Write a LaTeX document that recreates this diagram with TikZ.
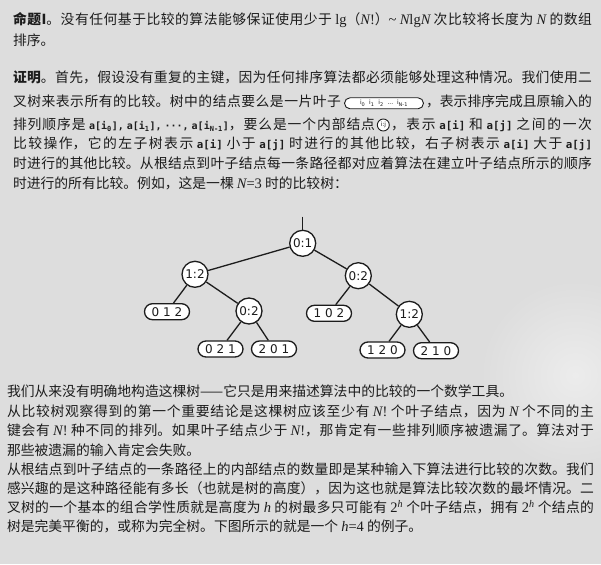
\documentclass[tikz,border=0pt]{standalone}
\usepackage{fontspec}
\setmainfont{Liberation Serif}
\newfontfamily\cjk{Noto Sans CJK SC}
\newfontfamily\ser{Liberation Serif}
\newfontfamily\mono{DejaVu Sans Mono}
\newfontfamily\treef{DejaVu Sans}
\XeTeXlinebreaklocale "zh"
\XeTeXlinebreakskip=0pt plus 4pt minus 0.4pt
\tolerance=10000
\definecolor{bg}{RGB}{221,221,221}
\definecolor{bglight}{RGB}{236,236,236}
\definecolor{ink}{RGB}{28,28,28}
\newcommand\vN{{\ser\itshape\fontsize{14.5}{16}\selectfont N}}
\newcommand\vh{{\ser\itshape\fontsize{14.5}{16}\selectfont h}}
\newcommand\sr[1]{{\ser\fontsize{14.5}{16}\selectfont #1}}
\newcommand\code[1]{{\mono\bfseries\fontsize{10.8}{12}\selectfont #1}}
\newcommand\codes[1]{{\mono\bfseries\fontsize{10}{12}\selectfont #1}}
\tikzset{
  tl/.style={anchor=base west, inner sep=0pt, outer sep=0pt, align=justify,
    font=\cjk\fontsize{13.8}{16}\selectfont, text=ink},
  cnode/.style={circle, draw=ink, fill=white, line width=1.3pt, inner sep=0pt,
    minimum size=26pt, font=\treef\fontsize{12}{14}\selectfont, text=ink},
  leaf/.style={rectangle, rounded corners=8pt, draw=ink, fill=white, line width=1.3pt,
    inner sep=0pt, minimum width=45pt, minimum height=16pt,
    font=\treef\fontsize{12}{14}\selectfont, text=ink},
  edge/.style={draw=ink, line width=1.3pt},
  ipill/.style={rectangle, rounded corners=5.5pt, draw=ink, fill=white, line width=0.9pt,
    inner sep=0pt, minimum width=79pt, minimum height=11pt,
    font=\treef\fontsize{6}{7}\selectfont, text=ink},
  icirc/.style={circle, draw=ink, fill=white, line width=0.9pt, inner sep=0pt,
    minimum size=12pt, font=\treef\fontsize{6}{7}\selectfont, text=ink}
}
\newcommand\jline[4]{\node[tl, text width=#3pt] at (#1,#2) {\parfillskip=0pt\relax #4\par};}
\newcommand\lline[3]{\node[tl, text width=590pt] at (#1,#2) {#3};}
\begin{document}
\begin{tikzpicture}[x=1pt,y=-1pt]
\useasboundingbox (0,0) rectangle (601,564);
\fill[bg] (0,0) rectangle (601,564);
\shade[inner color=bglight, outer color=bg] (575,375) circle [radius=95pt];

% Proposition
\jline{13}{24.5}{579}{{\bfseries 命题I}。没有任何基于比较的算法能够保证使用少于 \sr{lg}（\vN\sr{!}）\sr{\textasciitilde} \vN\sr{lg}\vN{} 次比较将长度为 \vN{} 的数组}
\lline{13}{45.7}{排序。}

% Proof
\jline{13}{82.3}{579}{{\bfseries 证明}。首先，假设没有重复的主键，因为任何排序算法都必须能够处理这种情况。我们使用二}
\jline{13}{107}{328}{叉树来表示所有的比较。树中的结点要么是一片叶子}
\node[ipill] (pill) at (384,103.3) {i\textsubscript{0}\ \ i\textsubscript{1}\ \ i\textsubscript{2}\ \ ...\ \ i\textsubscript{N-1}};
\jline{426}{107}{166}{，表示排序完成且原输入的}
\jline{13}{130}{362}{排列顺序是 \codes{a[i\textsubscript{0}],\hspace{3pt}a[i\textsubscript{1}],\hspace{3pt}···,\hspace{3pt}a[i\textsubscript{N-1}]}，要么是一个内部结点}
\node[icirc] (ij) at (383.3,125) {i:j};
\jline{391}{130}{201}{，表示 \code{a[i]} 和 \code{a[j]} 之间的一次}
\jline{13}{149}{579}{比较操作，它的左子树表示 \code{a[i]} 小于 \code{a[j]} 时进行的其他比较，右子树表示 \code{a[i]} 大于 \code{a[j]}}
\jline{13}{168.5}{579}{时进行的其他比较。从根结点到叶子结点每一条路径都对应着算法在建立叶子结点所示的顺序}
\lline{13}{188}{时进行的所有比较。例如，这是一棵 \vN\sr{=3} 时的比较树：}

% Tree
\coordinate (top) at (302.7,216.7);
\node[cnode] (r) at (302.7,243.3) {0:1};
\node[cnode] (a) at (195,274.3) {1:2};
\node[cnode] (b) at (358.3,275.7) {0:2};
\node[leaf] (l1) at (167,311.7) {0 1 2};
\node[cnode] (c) at (249,311) {0:2};
\node[leaf] (l2) at (329,313.3) {1 0 2};
\node[cnode] (d) at (409.3,314.3) {1:2};
\node[leaf] (l3) at (220.5,349) {0 2 1};
\node[leaf] (l4) at (274,349) {2 0 1};
\node[leaf] (l5) at (382.5,350) {1 2 0};
\node[leaf] (l6) at (436,350.7) {2 1 0};
\draw[edge] (top) -- (r);
\draw[edge] (r) -- (a);
\draw[edge] (r) -- (b);
\draw[edge] (a) -- (l1);
\draw[edge] (a) -- (c);
\draw[edge] (c) -- (l3);
\draw[edge] (c) -- (l4);
\draw[edge] (b) -- (l2);
\draw[edge] (b) -- (d);
\draw[edge] (d) -- (l5);
\draw[edge] (d) -- (l6);

% Following paragraphs
\lline{7}{396.7}{我们从来没有明确地构造这棵树——它只是用来描述算法中的比较的一个数学工具。}
\jline{7}{416.7}{587}{从比较树观察得到的第一个重要结论是这棵树应该至少有 \vN\sr{!} 个叶子结点，因为 \vN{} 个不同的主}
\jline{7}{435.5}{587}{键会有 \vN\sr{!} 种不同的排列。如果叶子结点少于 \vN\sr{!}，那肯定有一些排列顺序被遗漏了。算法对于}
\lline{7}{455}{那些被遗漏的输入肯定会失败。}
\jline{7}{474.3}{587}{从根结点到叶子结点的一条路径上的内部结点的数量即是某种输入下算法进行比较的次数。我们}
\jline{7}{493.7}{587}{感兴趣的是这种路径能有多长（也就是树的高度），因为这也就是算法比较次数的最坏情况。二}
\jline{7}{512.5}{587}{叉树的一个基本的组合学性质就是高度为 \vh{} 的树最多只可能有 \sr{2\textsuperscript{\itshape h}} 个叶子结点，拥有 \sr{2\textsuperscript{\itshape h}} 个结点的}
\lline{7}{531.7}{树是完美平衡的，或称为完全树。下图所示的就是一个 \vh\sr{=4} 的例子。}
\end{tikzpicture}
\end{document}
